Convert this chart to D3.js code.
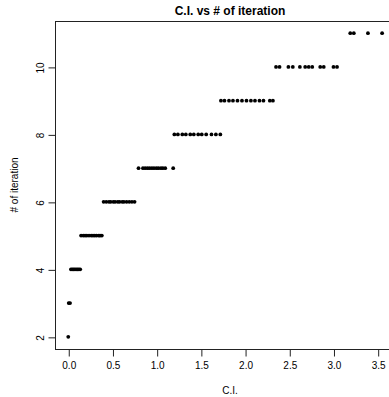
<!DOCTYPE html>
<html>
<head>
<meta charset="utf-8">
<script src="https://cdn.jsdelivr.net/npm/d3@7"></script>
<style>
  html, body { margin: 0; padding: 0; background: #fff; }
  svg { display: block; }
  text { font-family: "Liberation Sans", Arial, Helvetica, sans-serif; fill: #000; }
</style>
</head>
<body>
<div id="chart"></div>
<script>
// ---- data ----
const ci2  = [0.0];
const ci3  = [0.005, 0.02];
const ci4  = [0.03, 0.045, 0.06, 0.075, 0.09, 0.105, 0.12, 0.135];
const ci5  = [0.145, 0.17, 0.19, 0.21, 0.235, 0.26, 0.28, 0.30, 0.32, 0.345, 0.36, 0.38];
const ci6  = [0.40, 0.43, 0.46, 0.48, 0.51, 0.53, 0.56, 0.58, 0.61, 0.63, 0.66, 0.69, 0.72, 0.75];
const ci7  = [0.795, 0.845, 0.87, 0.896, 0.92, 0.946, 0.97, 0.997, 1.02, 1.048, 1.07, 1.097, 1.187];
const ci8  = [1.20, 1.24, 1.29, 1.33, 1.38, 1.42, 1.47, 1.51, 1.56, 1.62, 1.67, 1.72];
const ci9  = [1.727, 1.767, 1.818, 1.863, 1.914, 1.965, 2.016, 2.066, 2.112, 2.163, 2.208, 2.28, 2.315];
const ci10 = [2.35, 2.39, 2.49, 2.54, 2.62, 2.68, 2.72, 2.76, 2.85, 2.89, 3.00, 3.04];
const ci11 = [3.19, 3.23, 3.39, 3.55];
const levels = [2, 3, 4, 5, 6, 7, 8, 9, 10, 11];
const ciGroups = [ci2, ci3, ci4, ci5, ci6, ci7, ci8, ci9, ci10, ci11];
const xTicks = [0.0, 0.5, 1.0, 1.5, 2.0, 2.5, 3.0, 3.5];
const yTicks = [2, 4, 6, 8, 10];
const titleText = "C.I. vs # of iteration";
const xLabel = "C.I.";
const yLabel = "# of iteration";

const points = [];
levels.forEach((lv, i) => ciGroups[i].forEach(c => points.push({ ci: c, it: lv })));

// ---- layout ----
const W = 389, H = 397;
const mLeft = 55, mRight = 405, mTop = 21, mBottom = 349;

const svg = d3.select("#chart").append("svg").attr("width", W).attr("height", H);

const x = d3.scaleLinear().domain([-0.150, 3.809]).range([mLeft, mRight]);
const y = d3.scaleLinear().domain([1.64, 11.36]).range([mBottom, mTop]);

// points
svg.append("g").selectAll("circle").data(points).join("circle")
  .attr("cx", d => x(d.ci)).attr("cy", d => y(d.it)).attr("r", 1.9)
  .attr("fill", "#000");

// box
svg.append("rect").attr("x", mLeft + 0.5).attr("y", mTop + 0.5)
  .attr("width", mRight - mLeft).attr("height", mBottom - mTop)
  .attr("fill", "none").attr("stroke", "#222").attr("stroke-width", 1);

// x axis
const xAxis = d3.axisBottom(x).tickValues(xTicks).tickFormat(d3.format(".1f"))
  .tickSizeInner(7).tickSizeOuter(0).tickPadding(5);
const gx = svg.append("g").attr("transform", `translate(0.5,${mBottom + 0.5})`).call(xAxis);
gx.select(".domain").attr("d", `M${x(0)},0H${x(3.5)}`).attr("stroke", "#222");
gx.selectAll(".tick line").attr("stroke", "#222");
gx.selectAll(".tick text").style("font-size", "10px").attr("fill", "#000");

// y axis
const yAxis = d3.axisLeft(y).tickValues(yTicks).tickSizeInner(7).tickSizeOuter(0).tickPadding(5);
const gy = svg.append("g").attr("transform", `translate(${mLeft + 0.5},0.5)`).call(yAxis);
gy.select(".domain").attr("d", `M0,${y(2)}V${y(10)}`).attr("stroke", "#222");
gy.selectAll(".tick line").attr("stroke", "#222");
gy.selectAll(".tick text")
  .style("font-size", "10px").attr("fill", "#000")
  .attr("x", null)
  .attr("text-anchor", "middle")
  .attr("transform", "translate(-15.5,0) rotate(-90)")
  .attr("dy", "0.35em");

// titles
svg.append("text").attr("x", (mLeft + mRight) / 2).attr("y", 15)
  .attr("text-anchor", "middle").style("font-size", "12px").style("font-weight", "bold")
  .text(titleText);
svg.append("text").attr("x", (mLeft + mRight) / 2).attr("y", 394)
  .attr("text-anchor", "middle").style("font-size", "10px").text(xLabel);
svg.append("text").attr("transform", `translate(18,${(mTop + mBottom) / 2}) rotate(-90)`)
  .attr("text-anchor", "middle").style("font-size", "10px").text(yLabel);
</script>
</body>
</html>
